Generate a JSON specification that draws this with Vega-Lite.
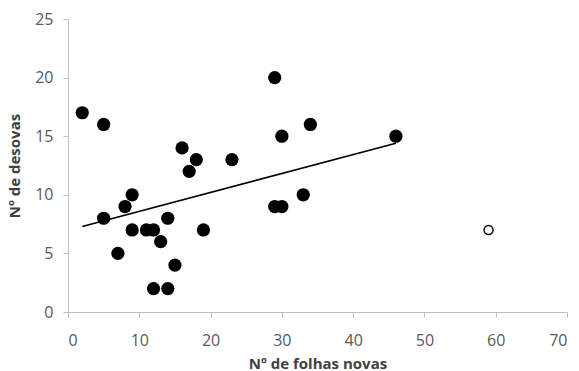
{
  "$schema": "https://vega.github.io/schema/vega-lite/v6.json",
  "autosize": "none",
  "width": 499,
  "height": 293,
  "padding": {"left": 68, "top": 19, "right": 12, "bottom": 59},
  "background": "white",
  "config": {
    "view": {"stroke": null},
    "font": "Open Sans",
    "axis": {
      "grid": false,
      "domainColor": "#bfbfbf",
      "tickColor": "#bfbfbf",
      "tickSize": 5,
      "labelFont": "Open Sans",
      "labelFontSize": 16,
      "labelColor": "#595959",
      "titleFont": "Open Sans",
      "titleFontSize": 15,
      "titleFontWeight": "bold",
      "titleColor": "#404040"
    }
  },
  "datasets": {
    "pts": [
      {"folhas": 2, "desovas": 17}, {"folhas": 5, "desovas": 16}, {"folhas": 5, "desovas": 8},
      {"folhas": 7, "desovas": 5}, {"folhas": 8, "desovas": 9}, {"folhas": 9, "desovas": 10},
      {"folhas": 9, "desovas": 7}, {"folhas": 11, "desovas": 7}, {"folhas": 12, "desovas": 7},
      {"folhas": 12, "desovas": 2}, {"folhas": 13, "desovas": 6}, {"folhas": 14, "desovas": 8},
      {"folhas": 14, "desovas": 2}, {"folhas": 15, "desovas": 4}, {"folhas": 16, "desovas": 14},
      {"folhas": 17, "desovas": 12}, {"folhas": 18, "desovas": 13}, {"folhas": 19, "desovas": 7},
      {"folhas": 23, "desovas": 13}, {"folhas": 29, "desovas": 20}, {"folhas": 29, "desovas": 9},
      {"folhas": 30, "desovas": 9}, {"folhas": 30, "desovas": 15}, {"folhas": 33, "desovas": 10},
      {"folhas": 34, "desovas": 16}, {"folhas": 46, "desovas": 15}
    ],
    "outlier": [{"folhas": 59, "desovas": 7}],
    "trend": [{"folhas": 2, "desovas": 7.3}, {"folhas": 46, "desovas": 14.4}]
  },
  "layer": [
    {
      "data": {"name": "trend"},
      "mark": {"type": "line", "color": "black", "strokeWidth": 1.5},
      "encoding": {
        "x": {"field": "folhas", "type": "quantitative", "scale": {"domain": [0, 70], "nice": false},
              "axis": {"title": "Nº de folhas novas", "values": [0,10,20,30,40,50,60,70], "labelPadding": 15, "titlePadding": 8}},
        "y": {"field": "desovas", "type": "quantitative", "scale": {"domain": [0, 25], "nice": false},
              "axis": {"title": "Nº de desovas", "values": [0,5,10,15,20,25], "labelPadding": 10, "titlePadding": 12}}
      }
    },
    {
      "data": {"name": "pts"},
      "mark": {"type": "point", "filled": true, "color": "black", "size": 175, "opacity": 1},
      "encoding": {
        "x": {"field": "folhas", "type": "quantitative"},
        "y": {"field": "desovas", "type": "quantitative"}
      }
    },
    {
      "data": {"name": "outlier"},
      "mark": {"type": "point", "filled": false, "color": "black", "size": 80, "strokeWidth": 1.5, "opacity": 1},
      "encoding": {
        "x": {"field": "folhas", "type": "quantitative"},
        "y": {"field": "desovas", "type": "quantitative"}
      }
    }
  ]
}
